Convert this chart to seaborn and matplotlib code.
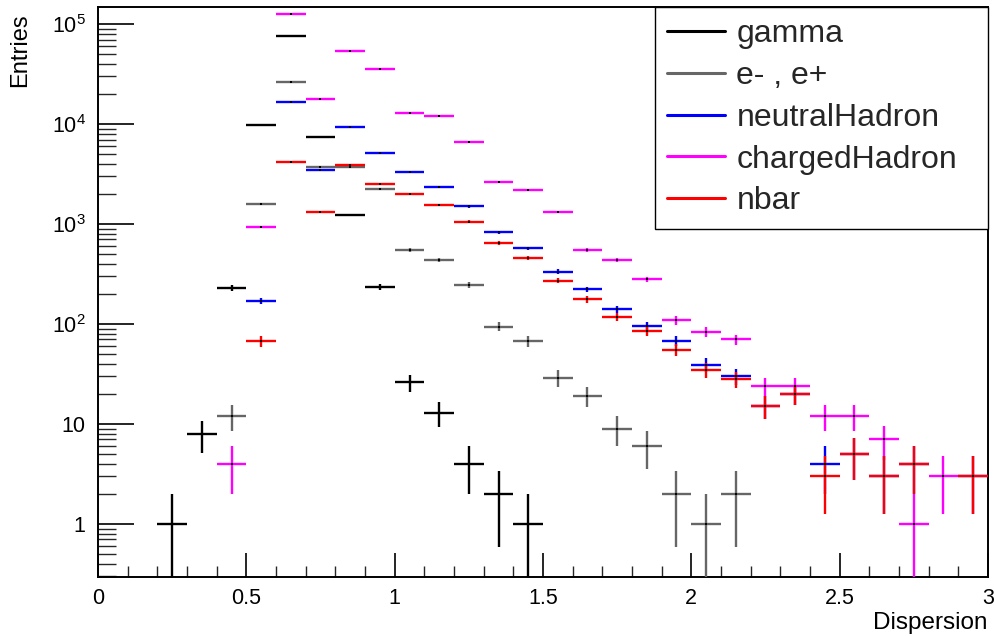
import numpy as np
import pandas as pd
import matplotlib
matplotlib.use("Agg")
import matplotlib.pyplot as plt
from matplotlib.lines import Line2D
from matplotlib.ticker import FixedLocator, LogLocator, MultipleLocator, NullFormatter
import seaborn as sns

# Histogram binning: 30 bins of width 0.1 on [0, 3]
bin_width = 0.1
bin_centers = [round(0.05 + 0.1 * i, 2) for i in range(30)]

# Entries per bin for each particle type
gamma = [0, 0, 1, 8, 231, 9800, 75300, 7470, 1230, 236,
         26, 13, 4, 2, 1, 0, 0, 0, 0, 0,
         0, 0, 0, 0, 0, 0, 0, 0, 0, 0]
electrons = [0, 0, 0, 0, 12, 1585, 26500, 3740, 3690, 2255,
             546, 433, 247, 94, 67, 29, 19, 9, 6, 2,
             1, 2, 0, 0, 0, 0, 0, 0, 0, 0]
neutral_hadron = [0, 0, 0, 0, 0, 171, 16700, 3470, 9280, 5090,
                  3330, 2360, 1500, 832, 571, 334, 222, 140, 95, 68,
                  39, 30, 15, 20, 4, 5, 3, 4, 0, 3]
charged_hadron = [0, 0, 0, 0, 4, 933, 125900, 17800, 54100, 35200,
                  12800, 12100, 6560, 2630, 2190, 1318, 553, 433, 280, 109,
                  84, 70, 24, 24, 12, 12, 7, 1, 3, 0]
nbar = [0, 0, 0, 0, 0, 67, 4140, 1310, 3860, 2510,
        1995, 1550, 1055, 646, 454, 271, 177, 117, 86, 55,
        35, 28, 15, 20, 3, 5, 3, 4, 0, 3]

series_names = ["gamma", "e- , e+", "neutralHadron", "chargedHadron", "nbar"]
series_values = [gamma, electrons, neutral_hadron, charged_hadron, nbar]
series_colors = ["#000000", "#666666", "#0000ff", "#ff00ff", "#ff0000"]

y_tick_values = [1, 10, 100, 1000, 10000, 100000]
y_tick_labels = ["1", "10", r"$10^{2}$", r"$10^{3}$", r"$10^{4}$", r"$10^{5}$"]
x_tick_values = [0, 0.5, 1, 1.5, 2, 2.5, 3]
x_tick_labels = ["0", "0.5", "1", "1.5", "2", "2.5", "3"]

# Long-form table of the filled bins
rows = []
for name, vals in zip(series_names, series_values):
    for c, n in zip(bin_centers, vals):
        if n > 0:
            rows.append({"species": name, "Dispersion": c, "Entries": n})
df = pd.DataFrame(rows)

sns.set_theme(style="ticks")
plt.rcParams["font.family"] = ["Liberation Sans", "DejaVu Sans"]
plt.rcParams["mathtext.fontset"] = "custom"
plt.rcParams["mathtext.rm"] = "Liberation Sans"
plt.rcParams["mathtext.it"] = "Liberation Sans"

fig = plt.figure(figsize=(9.95, 6.36), dpi=100)
fig.patch.set_facecolor("white")
W, H = 995, 636
ax_left, ax_right, ax_top, ax_bottom = 98, 988, 7, 577
ax = fig.add_axes([ax_left / W, 1 - ax_bottom / H,
                   (ax_right - ax_left) / W, (ax_bottom - ax_top) / H])
ax.set_facecolor("white")

ymin, ymax = 0.295, 1.48e5
ax.set_yscale("log")
ax.set_xlim(0, 3)
ax.set_ylim(ymin, ymax)

# Poisson error bars: horizontal = bin width, vertical = sqrt(N)
for name, color in zip(series_names, series_colors):
    sub = df[df["species"] == name]
    n = sub["Entries"].to_numpy(dtype=float)
    err = np.sqrt(n)
    lo = np.maximum(n - err, 1e-3)
    hi = n + err
    ax.errorbar(sub["Dispersion"], n, xerr=bin_width / 2,
                yerr=[n - lo, hi - n], fmt="none", ecolor=color,
                elinewidth=1.7, capsize=0, zorder=3)

# Small black bin-centre markers
sns.scatterplot(data=df, x="Dispersion", y="Entries", ax=ax, color="black",
                marker="s", s=3, linewidth=0, legend=False, zorder=4)

ax.set_xlabel("")
ax.set_ylabel("")

# Axis ticks and labels
ax.xaxis.set_major_locator(FixedLocator(x_tick_values))
ax.set_xticklabels(x_tick_labels)
ax.xaxis.set_minor_locator(MultipleLocator(0.1))
ax.yaxis.set_major_locator(FixedLocator(y_tick_values))
ax.set_yticklabels(y_tick_labels)
ax.yaxis.set_minor_locator(LogLocator(base=10, subs=np.arange(2, 10), numticks=20))
ax.yaxis.set_minor_formatter(NullFormatter())

ax.tick_params(axis="x", which="major", direction="in", length=17, width=1.2,
               labelsize=15.5, pad=8, colors="black", top=False)
ax.tick_params(axis="x", which="minor", direction="in", length=8, width=1.0, top=False)
ax.tick_params(axis="y", which="major", direction="in", length=26, width=1.2,
               labelsize=15.5, pad=9, colors="black", right=False)
ax.tick_params(axis="y", which="minor", direction="in", length=13, width=1.0, right=False)

for side in ["left", "bottom", "top", "right"]:
    ax.spines[side].set_visible(True)
    ax.spines[side].set_color("black")
    ax.spines[side].set_linewidth(1.4)

fig.text(988 / W, 1 - 629 / H, "Dispersion", ha="right", va="baseline",
         fontsize=17.5, color="black")
fig.text(20 / W, 1 - 13 / H, "Entries", ha="center", va="top", rotation=90,
         fontsize=17, color="black")

# Legend box spanning the upper-right corner of the frame
leg_left = (655 - ax_left) / (ax_right - ax_left)
handles = [Line2D([0], [0], color=c, lw=2.2) for c in series_colors]
leg = ax.legend(handles, series_names, loc="upper left",
                bbox_to_anchor=(leg_left, 0.0, 1 - leg_left, 1.0), mode="expand",
                borderaxespad=0, frameon=True, fancybox=False, fontsize=23,
                handlelength=1.8, handletextpad=0.37, labelspacing=0.37,
                borderpad=0.38)
leg.get_frame().set_edgecolor("black")
leg.get_frame().set_linewidth(1.0)
leg.get_frame().set_facecolor("white")
leg.get_frame().set_alpha(1)
leg.set_zorder(10)

fig.savefig("out.png", dpi=100, facecolor="white")
